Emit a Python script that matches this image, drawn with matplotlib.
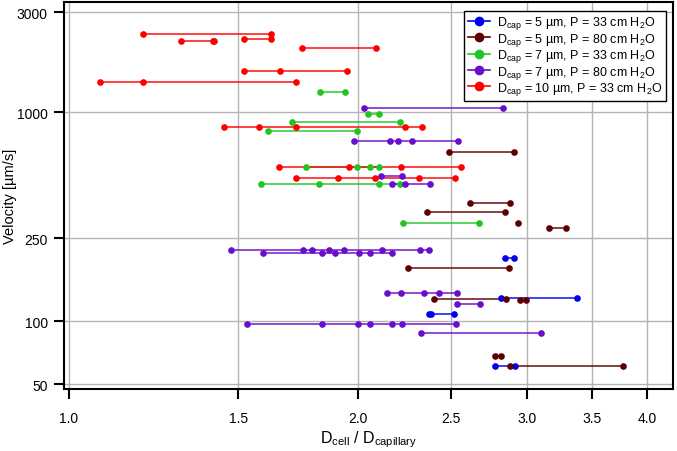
import matplotlib
matplotlib.use("Agg")
import matplotlib.pyplot as plt
from matplotlib import font_manager as fm
from matplotlib.ticker import FixedLocator, FixedFormatter, NullLocator
from matplotlib.lines import Line2D

# make sure the regular (not narrow) Liberation Sans is used
fm.fontManager.ttflist = [f for f in fm.fontManager.ttflist
                          if 'Narrow' not in f.name and 'Narrow' not in f.fname]
try:
    fm.fontManager._findfont_cached.cache_clear()
except Exception:
    pass

plt.rcParams['font.family'] = ['Liberation Sans', 'DejaVu Sans']
plt.rcParams['mathtext.default'] = 'regular'

# ---- data: each series = list of horizontal segments (velocity, list of D_cell/D_cap points)
blue_y = [201.4, 129.2, 108.1, 61.3]
blue_x = [[2.842, 2.905], [2.815, 3.375], [2.372, 2.384, 2.515], [2.779, 2.911]]

maroon_y = [643, 366.6, 334.1, 296.0, 280.2, 180.4, 128.3, 126.0, 68.4, 61.3]
maroon_x = [[2.485, 2.905], [2.614, 2.881], [2.356, 2.841], [2.930], [3.161, 3.290],
            [2.253, 2.868], [2.401, 2.847], [2.947, 2.989], [2.775, 2.815], [2.881, 3.772]]

green_y = [1248, 976, 894, 815, 545, 452, 294.1]
green_x = [[1.825, 1.937], [2.048, 2.102], [1.707, 2.210], [1.610, 1.994],
           [1.766, 1.994, 2.055, 2.102], [1.585, 1.822, 2.102, 2.210], [2.224, 2.673]]

purple_y = [1043, 728, 495, 452, 219.3, 212.1, 136.1, 120.7, 97.1, 88.2]
purple_x = [[2.029, 2.833], [1.981, 2.158, 2.198, 2.274, 2.539], [2.113, 2.219],
            [2.167, 2.240, 2.376],
            [1.475, 1.753, 1.791, 1.866, 1.934, 2.118, 2.322, 2.369],
            [1.593, 1.833, 1.890, 2.003, 2.058, 2.167],
            [2.141, 2.215, 2.339, 2.428, 2.535], [2.535, 2.675],
            [1.532, 1.835, 2.000, 2.058, 2.167, 2.219, 2.527], [2.325, 3.099]]

red_y = [2370, 2194, 2236, 2025, 1572, 1388, 852, 545, 483]
red_x = [[1.194, 1.622], [1.307, 1.412, 1.415], [1.520, 1.622], [1.746, 2.085],
         [1.520, 1.657, 1.947], [1.076, 1.194, 1.721],
         [1.451, 1.578, 1.721, 2.235, 2.333], [1.653, 1.957, 2.214, 2.558],
         [1.721, 1.904, 2.082, 2.312, 2.525]]

labels = [r'D$_{cap}$ = 5 µm, P = 33 cm H$_2$O',
          r'D$_{cap}$ = 5 µm, P = 80 cm H$_2$O',
          r'D$_{cap}$ = 7 µm, P = 33 cm H$_2$O',
          r'D$_{cap}$ = 7 µm, P = 80 cm H$_2$O',
          r'D$_{cap}$ = 10 µm, P = 33 cm H$_2$O']
colors = ['#0000ee', '#5e0000', '#22c422', '#6a0dcc', '#ff0000']

xticks = [1.0, 1.5, 2.0, 2.5, 3.0, 3.5, 4.0]
xticklabels = ['1.0', '1.5', '2.0', '2.5', '3.0', '3.5', '4.0']
yticks = [50, 100, 250, 1000, 3000]
yticklabels = ['50', '100', '250', '1000', '3000']

fig = plt.figure(figsize=(6.77, 4.52), dpi=100)
ax = fig.add_axes([64.3 / 677, 62 / 452, 609 / 677, 386.7 / 452])
ax.set_xscale('log')
ax.set_yscale('log')
ax.set_xlim(0.9888, 4.256)
ax.set_ylim(47.5, 3349)

series = [(blue_x, blue_y), (maroon_x, maroon_y), (green_x, green_y),
          (purple_x, purple_y), (red_x, red_y)]
for (xs_list, ys), c in zip(series, colors):
    for xs, y in zip(xs_list, ys):
        ax.plot(xs, [y] * len(xs), '-', color=c, lw=1.3, alpha=0.8, zorder=3)
        ax.plot(xs, [y] * len(xs), 'o', color=c, ms=4.8, mew=0, zorder=4)

ax.xaxis.set_major_locator(FixedLocator(xticks))
ax.xaxis.set_major_formatter(FixedFormatter(xticklabels))
ax.xaxis.set_minor_locator(NullLocator())
ax.yaxis.set_major_locator(FixedLocator(yticks))
ax.yaxis.set_major_formatter(FixedFormatter(yticklabels))
ax.yaxis.set_minor_locator(NullLocator())

ax.grid(True, color='#b4b4b4', lw=1.0, zorder=0)
ax.set_axisbelow(True)
for s in ax.spines.values():
    s.set_linewidth(1.5)
ax.tick_params(direction='out', length=7.5, width=1.5, labelsize=10, colors='black')
ax.tick_params(axis='x', pad=8)
ax.tick_params(axis='y', pad=4.5)

ax.set_xlabel(r'D$_{cell}$ / D$_{capillary}$', fontsize=11.5, labelpad=3)
ax.set_ylabel('Velocity [µm/s]', fontsize=10.5, labelpad=0)

handles = [Line2D([0], [0], color=c, lw=1.2, marker='o', ms=7, mew=0) for c in colors]
leg = ax.legend(handles, labels, loc='upper right', bbox_to_anchor=(0.9875, 0.9783),
                borderaxespad=0, fontsize=9, frameon=True, fancybox=False,
                edgecolor='black', framealpha=1, handlelength=1.8, handletextpad=0.5,
                labelspacing=-0.05, borderpad=0.3)
leg.get_frame().set_linewidth(1.0)

fig.savefig('out.png', dpi=100)
